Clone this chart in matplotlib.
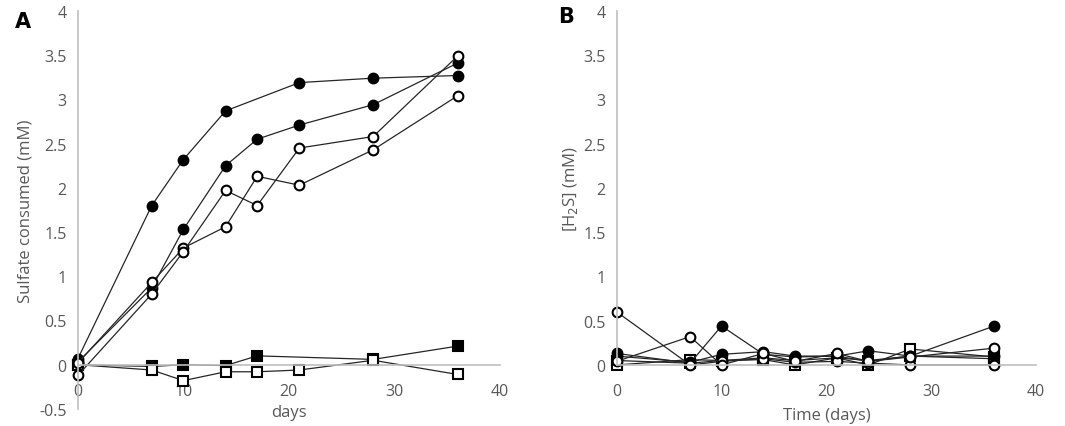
import numpy as np
import matplotlib.pyplot as plt

plt.rcParams['font.family'] = ['Open Sans', 'DejaVu Sans']

## panel A: sulfate consumed
days_a = [0, 7, 10, 14, 17, 21, 28, 36]
days_a_top = [0, 7, 10, 14, 21, 28, 36]
a_filled1 = [0.07, 1.80, 2.32, 2.87, 3.19, 3.24, 3.27]
a_filled2 = [0.03, 0.87, 1.53, 2.25, 2.55, 2.71, 2.94, 3.41]
a_open1 = [0.02, 0.93, 1.32, 1.56, 2.13, 2.03, 2.43, 3.04]
a_open2 = [-0.12, 0.80, 1.28, 1.97, 1.80, 2.45, 2.58, 3.49]
days_a_sq = [0, 7, 10, 14, 17, 28, 36]
a_sq_filled = [0.00, -0.02, 0.00, -0.01, 0.10, 0.06, 0.21]
a_sq_open = [0.00, -0.06, -0.18, -0.08, -0.08, -0.06, 0.05, -0.11]

## panel B: H2S
days_b = [0, 7, 10, 14, 17, 21, 24, 28, 36]
b_filled1 = [0.13, 0.02, 0.44, 0.12, 0.09, 0.10, 0.04, 0.10, 0.44]
b_filled2 = [0.10, 0.03, 0.12, 0.15, 0.10, 0.10, 0.16, 0.10, 0.10]
b_open1 = [0.60, 0.00, 0.04, 0.07, 0.03, 0.04, 0.02, 0.00, 0.00]
b_open2 = [0.04, 0.32, 0.00, 0.13, 0.04, 0.13, 0.04, 0.09, 0.19]
b_sq_filled = [0.05, 0.02, 0.05, 0.08, 0.05, 0.08, 0.05, 0.10, 0.07]
b_sq_open = [0.00, 0.06, 0.05, 0.06, 0.00, 0.08, 0.00, 0.18, 0.09]

grey = '#595959'
spine = '#bfbfbf'

fig = plt.figure(figsize=(10.65, 4.27), dpi=100)
ax1 = fig.add_axes([0.0732, 0.040, 0.396, 0.932])
ax2 = fig.add_axes([0.579, 0.143, 0.394, 0.829])


def line(ax, x, y, marker, filled):
    ax.plot(x, y, color='#262626', lw=0.9, marker=marker,
            markersize=7 if marker == 'o' else 6.5,
            markerfacecolor='black' if filled else 'white',
            markeredgecolor='black', markeredgewidth=1.5, clip_on=False)


line(ax1, days_a_sq, a_sq_filled, 's', True)
line(ax1, days_a, a_sq_open, 's', False)
line(ax1, days_a_top, a_filled1, 'o', True)
line(ax1, days_a, a_filled2, 'o', True)
line(ax1, days_a, a_open1, 'o', False)
line(ax1, days_a, a_open2, 'o', False)

line(ax2, days_b, b_sq_filled, 's', True)
line(ax2, days_b, b_sq_open, 's', False)
line(ax2, days_b, b_filled1, 'o', True)
line(ax2, days_b, b_filled2, 'o', True)
line(ax2, days_b, b_open1, 'o', False)
line(ax2, days_b, b_open2, 'o', False)

ax1.set_ylim(-0.5, 4)
ax2.set_ylim(0, 4)
for ax in (ax1, ax2):
    ax.set_xlim(0, 40)
    ax.set_xticks([0, 10, 20, 30, 40])
    ax.set_yticks(np.arange(0, 4.01, 0.5) if ax is ax2 else np.arange(-0.5, 4.01, 0.5))
    ax.set_yticklabels([f'{v:g}' for v in ax.get_yticks()])
    for s in ('top', 'right'):
        ax.spines[s].set_visible(False)
    for s in ('left', 'bottom'):
        ax.spines[s].set_color(spine)
        ax.spines[s].set_linewidth(1.2)
    ax.tick_params(length=0, labelsize=11.5, colors=grey, pad=8)
    ax.tick_params(axis='x', pad=13)

ax1.spines['bottom'].set_position(('data', 0))
ax1.spines['left'].set_position(('data', 0))

ax1.set_ylabel('Sulfate consumed (mM)', fontsize=12, color=grey, labelpad=4)
ax1.set_xlabel('days', fontsize=12, color=grey)
ax1.xaxis.set_label_coords(0.5, 0.012)
ax2.set_ylabel('[H$_2$S] (mM)', fontsize=12, color=grey, labelpad=2)
ax2.set_xlabel('Time (days)', fontsize=12, color=grey, labelpad=6)

fig.text(0.014, 0.935, 'A', fontsize=15, fontweight='bold', family='DejaVu Sans')
fig.text(0.524, 0.945, 'B', fontsize=15, fontweight='bold', family='DejaVu Sans')

fig.savefig('out.png', dpi=100)
